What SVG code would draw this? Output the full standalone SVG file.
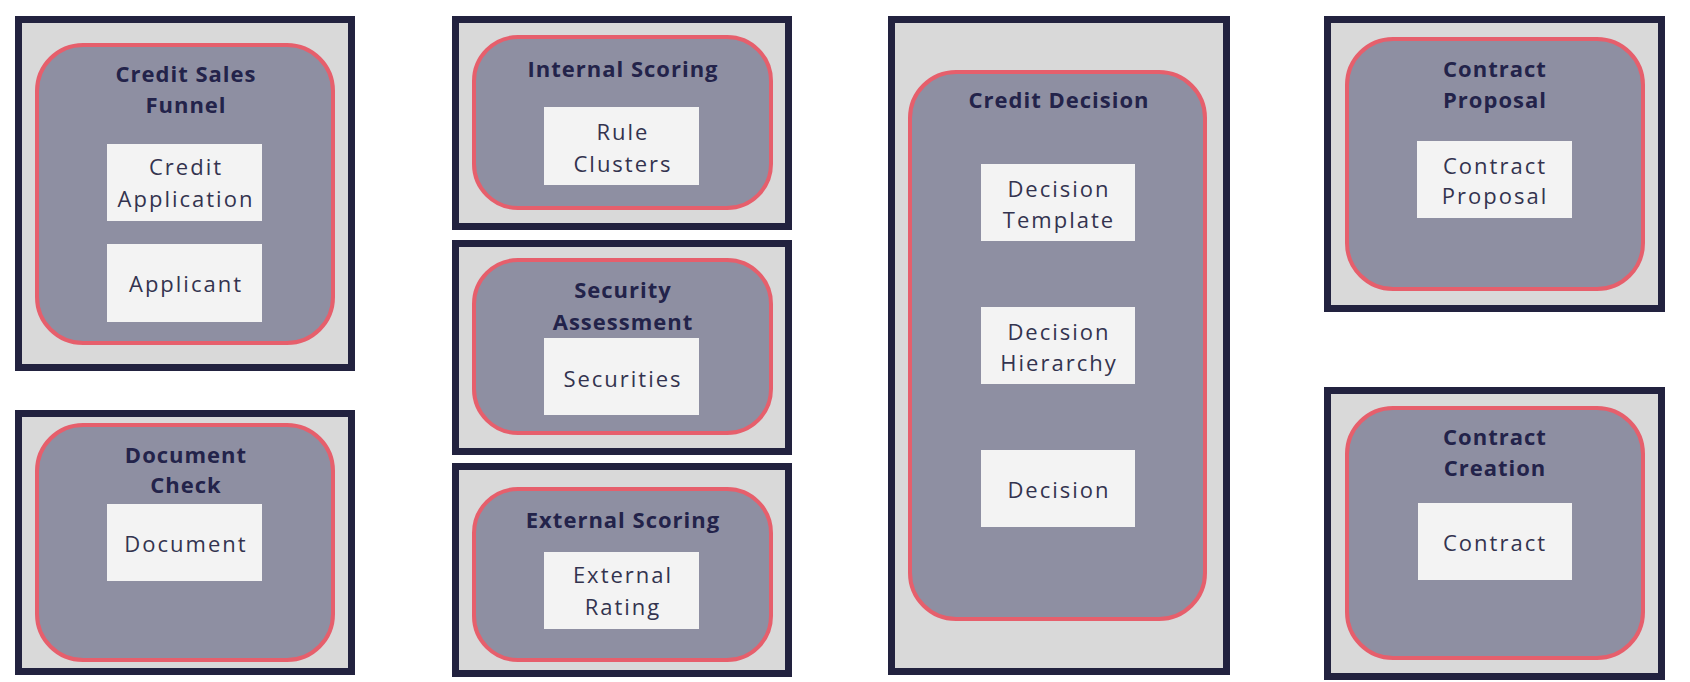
<svg xmlns="http://www.w3.org/2000/svg" width="1690" height="682" viewBox="0 0 1690 682">
<style>
.frame{fill:#d9d9d9;stroke:#22223f;stroke-width:7}
.ctx{fill:#8e8fa2;stroke:#e65f6c;stroke-width:4}
.ent{fill:#f3f3f3}
.title{font-family:"Open Sans","Liberation Sans",sans-serif;font-weight:bold;font-size:22px;letter-spacing:1px;fill:#23234a;text-anchor:middle}
.lbl{font-family:"Open Sans","Liberation Sans",sans-serif;font-size:22px;letter-spacing:2px;fill:#33334f;text-anchor:middle}
</style>
<rect width="1690" height="682" fill="#ffffff"/>
<g id="connectors"/>
<g id="credit-sales-funnel">
<rect class="frame" x="18.5" y="19.5" width="333" height="348"/>
<rect class="ctx" x="37" y="45" width="296" height="298" rx="46"/>
<text class="title" x="186" y="82">Credit Sales</text>
<text class="title" x="186" y="113">Funnel</text>
<rect class="ent" x="107" y="144" width="155" height="77"/>
<text class="lbl" x="186" y="175">Credit</text>
<text class="lbl" x="186" y="207">Application</text>
<rect class="ent" x="107" y="244" width="155" height="78"/>
<text class="lbl" x="186" y="292">Applicant</text>
</g>
<g id="document-check">
<rect class="frame" x="18.5" y="413.5" width="333" height="258"/>
<rect class="ctx" x="37" y="425" width="296" height="235" rx="46"/>
<text class="title" x="186" y="463">Document</text>
<text class="title" x="186" y="493">Check</text>
<rect class="ent" x="107" y="504" width="155" height="77"/>
<text class="lbl" x="186" y="552">Document</text>
</g>
<g id="internal-scoring">
<rect class="frame" x="455.5" y="19.5" width="333" height="207"/>
<rect class="ctx" x="474" y="37" width="297" height="171" rx="44"/>
<text class="title" x="623" y="77">Internal Scoring</text>
<rect class="ent" x="544" y="107" width="155" height="78"/>
<text class="lbl" x="623" y="140">Rule</text>
<text class="lbl" x="623" y="172">Clusters</text>
</g>
<g id="security-assessment">
<rect class="frame" x="455.5" y="243.5" width="333" height="208"/>
<rect class="ctx" x="474" y="260" width="297" height="173" rx="44"/>
<text class="title" x="623" y="298">Security</text>
<text class="title" x="623" y="330">Assessment</text>
<rect class="ent" x="544" y="338" width="155" height="77"/>
<text class="lbl" x="623" y="387">Securities</text>
</g>
<g id="external-scoring">
<rect class="frame" x="455.5" y="466.5" width="333" height="207"/>
<rect class="ctx" x="474" y="489" width="297" height="171" rx="44"/>
<text class="title" x="623" y="528">External Scoring</text>
<rect class="ent" x="544" y="552" width="155" height="77"/>
<text class="lbl" x="623" y="583">External</text>
<text class="lbl" x="623" y="615">Rating</text>
</g>
<g id="credit-decision">
<rect class="frame" x="891.5" y="19.5" width="335" height="652"/>
<rect class="ctx" x="910" y="72" width="295" height="547" rx="46"/>
<text class="title" x="1059" y="108">Credit Decision</text>
<rect class="ent" x="981" y="164" width="154" height="77"/>
<text class="lbl" x="1059" y="197">Decision</text>
<text class="lbl" x="1059" y="228">Template</text>
<rect class="ent" x="981" y="307" width="154" height="77"/>
<text class="lbl" x="1059" y="340">Decision</text>
<text class="lbl" x="1059" y="371">Hierarchy</text>
<rect class="ent" x="981" y="450" width="154" height="77"/>
<text class="lbl" x="1059" y="498">Decision</text>
</g>
<g id="contract-proposal">
<rect class="frame" x="1327.5" y="19.5" width="334" height="289"/>
<rect class="ctx" x="1347" y="39" width="296" height="250" rx="46"/>
<text class="title" x="1495" y="77">Contract</text>
<text class="title" x="1495" y="108">Proposal</text>
<rect class="ent" x="1417" y="141" width="155" height="77"/>
<text class="lbl" x="1495" y="174">Contract</text>
<text class="lbl" x="1495" y="204">Proposal</text>
</g>
<g id="contract-creation">
<rect class="frame" x="1327.5" y="390.5" width="334" height="286"/>
<rect class="ctx" x="1347" y="408" width="296" height="250" rx="46"/>
<text class="title" x="1495" y="445">Contract</text>
<text class="title" x="1495" y="476">Creation</text>
<rect class="ent" x="1418" y="503" width="154" height="77"/>
<text class="lbl" x="1495" y="551">Contract</text>
</g>
</svg>
